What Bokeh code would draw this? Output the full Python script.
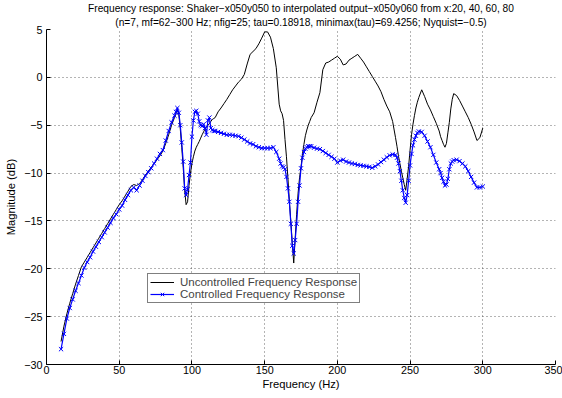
from bokeh.plotting import figure
from bokeh.models import Range1d, CustomJSTickFormatter, FixedTicker, Legend, LegendItem, Title
from bokeh.embed import file_html
from bokeh.resources import INLINE

freq = [10, 12, 14, 16, 18, 20, 22, 24, 26, 28, 30, 32, 34, 36, 38, 40, 42, 44, 46, 48,
        50, 52, 54, 56, 58, 60, 62, 64, 66, 68, 70, 72, 74, 76, 78, 80, 82, 84, 86, 88,
        89, 90, 91, 92, 93, 94, 95, 96, 97, 98, 99, 100, 101, 102, 103, 104, 105, 106,
        107, 108, 109, 110, 111, 112, 113, 114, 115, 116,
        118, 120, 122, 124, 126, 128, 130, 132, 134, 136, 138, 140, 142, 144, 146, 148,
        150, 152, 154, 156, 158, 160,
        161, 162, 163, 164, 165, 166, 167, 168, 169, 170, 171, 172, 173, 174, 175, 176,
        177, 178, 179, 180, 181, 182,
        184, 186, 188, 190, 192, 194, 196, 198, 200, 202, 204, 206, 208, 210, 212, 214,
        216, 218, 220, 222, 224, 226, 228, 230, 232, 234, 236, 238, 240,
        241, 242, 243, 244, 245, 246, 247, 248, 249, 250, 251, 252, 253, 254, 255, 256,
        258, 260, 262, 264, 266, 268, 270,
        271, 272, 273, 274, 275, 276, 277, 278, 279, 280,
        282, 284, 286, 288, 290, 292, 294, 296, 298, 300]

uncontrolled = [-27.6, -26.0, -24.7, -23.6, -22.6, -21.6, -20.7, -19.8, -19.3, -18.8,
                -18.3, -17.8, -17.3, -16.8, -16.3, -15.8, -15.3, -14.8, -14.3, -13.8,
                -13.3, -12.9, -12.4, -11.9, -11.4, -11.2, -11.3, -11.1, -10.7, -10.2,
                -9.8, -9.4, -9.0, -8.6, -8.2, -7.7, -6.9, -6.0, -5.0, -4.2,
                -3.8, -3.4, -3.9, -5.4, -7.3, -9.4, -11.8, -13.3, -13.0, -11.3,
                -10.0, -9.0, -8.3, -7.7, -7.3, -7.0, -6.7, -6.35, -6.0, -5.7,
                -5.4, -5.2, -5.0, -4.85, -4.6, -4.4, -4.3, -4.2,
                -3.6, -3.2, -2.75, -2.3, -1.8, -1.3, -0.9, -0.5, -0.2, 0.3,
                1.4, 2.4, 2.7, 3.0, 3.5, 4.1, 4.75, 4.75, 4.2, 3.0, 1.0, -2.8,
                -3.5, -3.8, -4.5, -6.5, -8.3, -10.5, -12.9, -15.0, -17.3, -19.4,
                -16.8, -14.3, -12.1, -10.5, -9.4, -8.0, -7.0, -6.1, -5.5, -5.0,
                -4.6, -4.2,
                -3.7, -2.6, -1.6, 0.8, 1.5, 1.6, 1.8, 2.0, 2.2, 1.9, 1.3, 1.4,
                1.8, 2.0, 2.2, 2.4, 2.0, 1.6, 1.1, 0.6, 0.1, -0.4, -0.9, -1.5,
                -2.3, -3.0, -3.6, -4.6, -6.3,
                -7.2, -8.2, -9.0, -9.8, -10.5, -11.2, -11.8, -10.6, -9.3, -7.6,
                -6.0, -4.9, -4.0, -3.2, -2.6, -2.1,
                -1.3, -2.0, -2.8, -3.4, -4.1, -4.8, -5.6,
                -6.2, -6.6, -7.0, -7.3, -6.9, -5.8, -4.7, -3.3, -2.3, -1.7,
                -1.9, -2.4, -3.0, -3.6, -4.2, -4.9, -5.7, -6.6, -6.3, -5.3]

controlled = [-28.4, -26.8, -25.2, -24.1, -23.2, -22.3, -21.5, -20.7, -19.9, -19.3,
              -18.8, -18.2, -17.7, -17.2, -16.7, -16.2, -15.7, -15.2, -14.7, -14.3,
              -13.8, -13.4, -12.8, -12.3, -11.8, -11.5, -11.8, -11.3, -10.8, -10.3,
              -9.9, -9.5, -9.0, -8.5, -8.0, -7.6, -6.6, -5.6, -4.7, -4.0,
              -3.6, -3.2, -3.7, -5.0, -6.8, -8.8, -11.6, -12.3, -11.7, -10.2,
              -8.9, -6.2, -4.5, -3.6, -3.5, -3.8, -4.6, -5.0, -5.1, -4.9,
              -5.3, -6.0, -4.5, -4.2, -5.3, -5.5, -5.6, -5.6,
              -5.7, -5.8, -5.9, -6.0, -6.0, -6.05, -6.1, -6.15, -6.3, -6.5,
              -6.7, -6.9, -7.0, -7.2, -7.3, -7.4, -7.4, -7.4, -7.4, -7.3, -7.8, -8.5,
              -9.0, -9.3, -9.4, -9.6, -10.4, -11.6, -13.0, -15.3, -17.6, -18.4,
              -17.0, -15.3, -13.0, -11.3, -9.5, -8.4, -7.8, -7.45, -7.3, -7.2,
              -7.2, -7.2,
              -7.35, -7.45, -7.5, -7.7, -7.9, -8.1, -8.3, -8.5, -8.9, -8.7, -8.6, -8.8,
              -8.9, -9.0, -9.05, -9.15, -9.2, -9.25, -9.3, -9.35, -9.45, -9.3, -9.1, -8.85,
              -8.6, -8.35, -8.15, -8.05, -8.1,
              -8.4, -9.0, -9.8, -10.8, -11.8, -12.6, -13.1, -12.3, -10.8, -9.2,
              -8.0, -7.1, -6.5, -6.1, -5.8, -5.65,
              -5.7, -6.1, -6.7, -7.3, -8.1, -8.9, -9.6,
              -10.0, -10.5, -10.9, -11.3, -11.2, -10.6, -9.6, -9.0, -8.8, -8.65,
              -8.6, -8.75, -9.0, -9.3, -9.8, -10.4, -11.0, -11.5, -11.5, -11.4]

x_ticks = [0, 50, 100, 150, 200, 250, 300, 350]
y_ticks = [5, 0, -5, -10, -15, -20, -25, -30]

title_line1 = "Frequency response: Shaker\u2212x050y050 to interpolated output\u2212x050y060 from x:20, 40, 60, 80"
title_line2 = "(n=7, mf=62\u2212300 Hz; nfig=25; tau=0.18918, minimax(tau)=69.4256; Nyquist=\u22120.5)"

FONT = "Liberation Sans"

p = figure(width=562, height=398, output_backend="svg", toolbar_location=None,
           x_range=Range1d(0, 350), y_range=Range1d(-30, 5),
           min_border_left=46, min_border_right=7, min_border_bottom=34, min_border_top=28)

def style_title(t):
    t.align = "center"
    t.text_font = FONT
    t.text_font_size = "10.2px"
    t.text_font_style = "normal"
    t.text_color = "black"
    t.offset = 0
    t.standoff = 0

p.title.text = title_line1
style_title(p.title)
t2 = Title(text=title_line2)
style_title(t2)
t2.standoff = 3
p.add_layout(t2, "above")

p.outline_line_color = None
p.background_fill_color = "white"
p.border_fill_color = "white"

for ax in (p.xaxis[0], p.yaxis[0]):
    ax.axis_line_color = "black"
    ax.axis_line_width = 1
    ax.major_tick_in = 4
    ax.major_tick_out = 0
    ax.minor_tick_line_color = None
    ax.major_label_text_font = FONT
    ax.major_label_text_font_size = "10.8px"
    ax.major_label_text_color = "black"
    ax.axis_label_text_font = FONT
    ax.axis_label_text_font_size = "11.2px"
    ax.axis_label_text_font_style = "normal"
    ax.axis_label_text_color = "black"

p.xaxis.ticker = FixedTicker(ticks=x_ticks)
p.yaxis.ticker = FixedTicker(ticks=y_ticks)
p.yaxis.formatter = CustomJSTickFormatter(code="return String(tick).replace('-', '\\u2212');")
p.xaxis.axis_label = "Frequency (Hz)"
p.yaxis.axis_label = "Magnitude (dB)"
p.xaxis.major_label_standoff = 1
p.yaxis.major_label_standoff = 4
p.xaxis.axis_label_standoff = 1
p.yaxis.axis_label_standoff = 4

for g in (p.xgrid[0], p.ygrid[0]):
    g.grid_line_color = "#444444"
    g.grid_line_dash = "1 3"
    g.grid_line_width = 1
    g.grid_line_alpha = 0.8

r_unc = p.line(freq, uncontrolled, line_color="black", line_width=1)
r_con = p.line(freq, controlled, line_color="#0000ff", line_width=1.2)
r_con_m = p.scatter(freq, controlled, marker="x", size=6, line_color="#0000ff", line_width=1)

legend = Legend(items=[LegendItem(label="Uncontrolled Frequency Response", renderers=[r_unc]),
                       LegendItem(label="Controlled Frequency Response", renderers=[r_con, r_con_m])],
                location=(101, 61))
legend.label_text_font = FONT
legend.label_text_font_size = "11.5px"
legend.label_height = 12
legend.glyph_height = 12
legend.glyph_width = 24
legend.spacing = 0
legend.padding = 2
legend.margin = 0
legend.label_standoff = 6
legend.border_line_color = "black"
legend.border_line_width = 1
legend.background_fill_alpha = 1
p.add_layout(legend, "center")

open("out.html", "w").write(file_html(p, INLINE))
